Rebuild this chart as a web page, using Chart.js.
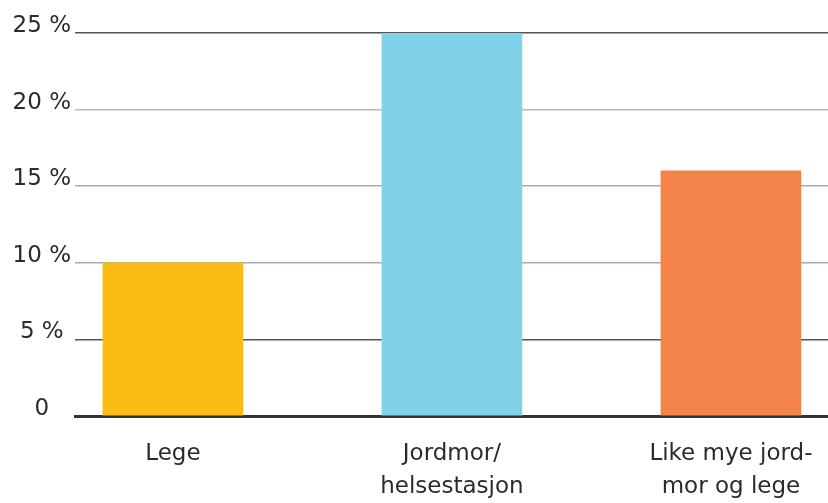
<!DOCTYPE html>
<html>
<head>
<meta charset="utf-8">
<script src="https://cdn.jsdelivr.net/npm/chart.js@4"></script>
<style>
  html, body { margin: 0; padding: 0; background: #fff; }
  #wrap { width: 828px; height: 503px; }
</style>
</head>
<body>
<div id="wrap"><canvas id="chart"></canvas></div>
<script>
const categories = [['Lege'], ['Jordmor/', 'helsestasjon'], ['Like mye jord-', 'mor og lege']];
const values = [10, 25, 16];
const barColors = ['#FBBD13', '#80D2E8', '#F4834A'];
const yTicks = [0, 5, 10, 15, 20, 25];
// hver linje har litt ulik farge i originalen
const gridColors = { 0: 'rgba(0,0,0,0)', 5: '#555555', 10: '#a3adb5', 15: '#a3adb5', 20: '#b5babd', 25: '#555555' };

const font = { family: 'DejaVu Sans', size: 23, lineHeight: 1.45 };

new Chart(document.getElementById('chart'), {
    type: 'bar',
    data: {
        datasets: [{
            data: values.map((v, i) => ({ x: i, y: v })),
            backgroundColor: barColors,
            barThickness: 140
        }]
    },
    options: {
        responsive: true,
        maintainAspectRatio: false,
        animation: false,
        layout: { padding: { top: 33, right: 0, bottom: 0, left: 0 } },
        plugins: { legend: { display: false }, tooltip: { enabled: false } },
        scales: {
            x: {
                type: 'linear',
                offset: false,
                min: -0.351,
                max: 2.348,
                afterBuildTicks: axis => { axis.ticks = categories.map((c, i) => ({ value: i })); },
                afterFit: axis => {
                    axis.height = 87;
                    axis.paddingLeft = 0;
                    axis.paddingRight = 0;
                },
                grid: { display: false, drawTicks: false, offset: false },
                border: { display: true, color: '#333333', width: 3 },
                ticks: {
                    autoSkip: false,
                    maxRotation: 0,
                    padding: 21,
                    color: '#2b2b2b',
                    font: font,
                    callback: v => categories[v]
                }
            },
            y: {
                min: 0,
                max: 25,
                afterBuildTicks: axis => { axis.ticks = yTicks.map(v => ({ value: v })); },
                afterFit: axis => { axis.width = 75; },
                grid: {
                    drawTicks: false,
                    color: ctx => gridColors[ctx.tick.value],
                    lineWidth: 1.5
                },
                border: { display: false },
                ticks: {
                    padding: 4,
                    crossAlign: 'center',
                    labelOffset: -7,
                    color: '#2b2b2b',
                    font: { family: 'DejaVu Sans', size: 23 },
                    callback: v => v === 0 ? '0' : v + ' %'
                }
            }
        }
    }
});
</script>
</body>
</html>
